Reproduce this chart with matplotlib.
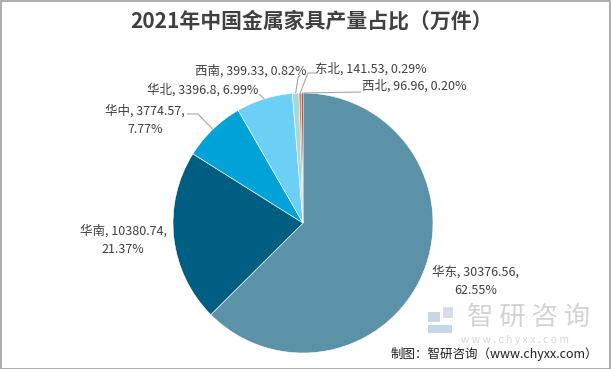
import matplotlib
matplotlib.use("Agg")
import matplotlib.pyplot as plt
import numpy as np

# dados
regioes = ["华东", "华南", "华中", "华北", "西南", "东北", "西北"]
valores = [30376.56, 10380.74, 3774.57, 3396.8, 399.33, 141.53, 96.96]
percentuais = ["62.55%", "21.37%", "7.77%", "6.99%", "0.82%", "0.29%", "0.20%"]
cores = ["#5B92A8", "#005E82", "#00A2D8", "#6CCFF5", "#A5D9D9", "#E07A5F", "#5A3A32"]

titulo = "2021年中国金属家具产量占比（万件）"
fonte = "制图：智研咨询（www.chyxx.com）"

W, H = 611, 369
cx, cy, r = 303, 223, 130

plt.rcParams['font.family'] = ['Noto Sans CJK SC', 'DejaVu Sans']

fig = plt.figure(figsize=(W / 100, H / 100), dpi=100)
ax = fig.add_axes([0, 0, 1, 1])


def P(x, y):
    # coordenadas em pixels com origem no topo
    return x, H - y


wedges, _ = ax.pie(valores, colors=cores, startangle=90, counterclock=False,
                   center=P(cx, cy), radius=r, frame=True,
                   wedgeprops=dict(edgecolor="white", linewidth=0.4))
ax.set_xlim(0, W)
ax.set_ylim(0, H)
ax.axis("off")

# rótulos: posição do texto, quebra de linha e cotovelos da linha guia
rotulos = {
    "华东": ((476, 281), True, None),
    "华南": ((123, 240), True, None),
    "华中": ((145, 120), True, [(187, 114), (198, 114)]),
    "华北": ((203, 90), False, [(259, 94)]),
    "西南": ((251, 71), False, [(300, 75), (298, 78)]),
    "东北": ((371, 69), False, [(316, 73), (308, 73)]),
    "西北": ((414, 86), False, [(361, 92)]),
}

for w, nome, v, pc in zip(wedges, regioes, valores, percentuais):
    (tx, ty), quebra, cotovelo = rotulos[nome]
    vs = f"{v:.2f}".rstrip("0").rstrip(".") if nome == "华北" else f"{v:.2f}"
    if quebra:
        txt = f"{nome}, {vs},\n{pc}"
    else:
        txt = f"{nome}, {vs}, {pc}"
    ax.text(*P(tx, ty), txt, ha="center", va="center", fontsize=9,
            color="#404040", linespacing=1.45)
    if cotovelo:
        ang = np.deg2rad((w.theta1 + w.theta2) / 2)
        ax_x = w.center[0] + r * np.cos(ang)
        ax_y = w.center[1] + r * np.sin(ang)
        pts = [P(x, y) for x, y in cotovelo] + [(ax_x, ax_y)]
        xs, ys = zip(*pts)
        ax.plot(xs, ys, color="#A6A6A6", lw=0.8, solid_capstyle="butt")

ax.text(*P(312, 21), titulo, ha="center", va="center", fontsize=15,
        fontweight="bold", color="#404040")

# marca d'água
ax.add_patch(plt.Rectangle(P(428, 322), 12, 10, color="#C9D6E4", lw=0))
ax.add_patch(plt.Rectangle(P(428, 333), 24, 8, color="#C9D6E4", lw=0))
ax.add_patch(plt.Rectangle(P(443, 318), 10, 11, color="#D5DEE8", lw=0))
ax.text(*P(529, 317), "智 研 咨 询", ha="center", va="center", fontsize=19,
        color="#D3D3D3")
ax.text(*P(515, 340), "w w w . c h y x x . c o m", ha="center", va="center",
        fontsize=7.5, color="#D8D8D8")

ax.text(*P(598, 354), fonte, ha="right", va="center", fontsize=9,
        color="#202020")

# moldura
ax.add_patch(plt.Rectangle((0.5, 0.5), W - 1.5, H - 1.5, fill=False,
                           edgecolor="#A0A0A0", lw=1.2))

fig.savefig("out.png", dpi=100)
